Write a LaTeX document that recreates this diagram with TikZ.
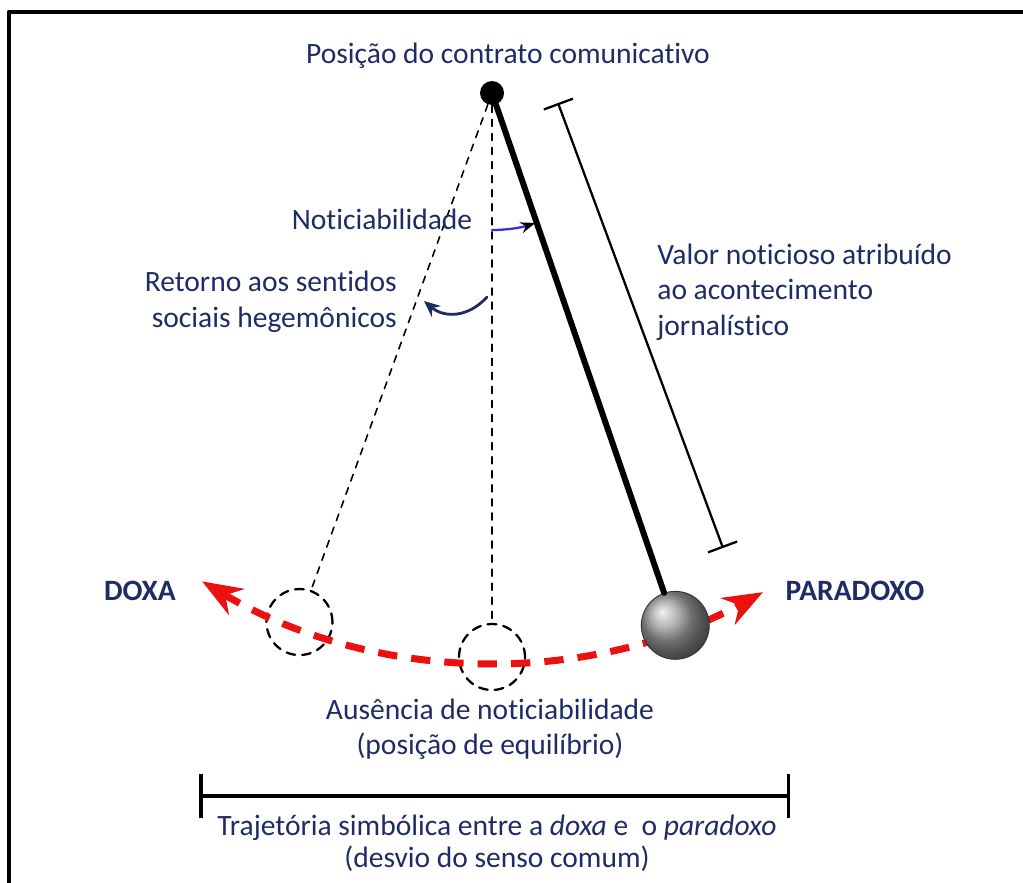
\documentclass[tikz,border=0pt]{standalone}
\usepackage{fontspec}
\setmainfont{Carlito}[Ligatures=NoCommon]
\usetikzlibrary{arrows.meta}
\usetikzlibrary{calc}
\usetikzlibrary{positioning}
\definecolor{navytext}{RGB}{30,44,102}
\definecolor{swingred}{RGB}{236,16,16}
\definecolor{notblue}{RGB}{50,50,215}

\begin{document}
\begin{tikzpicture}[x=0.02cm, y=0.02cm, line cap=round, line join=round, >=Stealth,
    lbl/.style={text=navytext, font=\fontsize{16.8}{20.2}\selectfont, inner sep=0pt},
    ghost/.style={circle, draw, line width=1.3pt, dash pattern=on 5pt off 4pt, minimum size=1.32cm, inner sep=0pt},
    guide/.style={line width=0.9pt, dash pattern=on 4pt off 4pt}]
  \useasboundingbox (0,0) rectangle (1023,-882);
  %--- frame
  \draw[line width=2.4pt, line cap=butt] (9,-900) -- (9,-12) -- (1040,-12);
  %--- pivot and resting positions
  \node[circle, fill, minimum size=0.48cm, inner sep=0pt] (pivot) at (492,-93) {};
  \node[ghost] (doxapos) at ($(pivot)+(250:563)$) {};
  \node[ghost] (restpos) at ($(pivot)+(270:564)$) {};
  %--- swing
  \draw[swingred, line width=4pt, line cap=butt, dash pattern=on 11pt off 8pt,
        {Stealth[length=0.8cm,width=0.6cm]}-{Stealth[length=0.8cm,width=0.6cm]}]
        ($(pivot)+(239.3:568)$) arc[start angle=239.3, end angle=298.5, radius=568];
  \draw[guide] (pivot) -- (doxapos);
  \draw[guide] (pivot) -- (restpos);
  %--- pendulum
  \node[circle, shading=ball, ball color=gray!75, draw=gray!40!black, line width=0.5pt,
        minimum size=1.36cm, inner sep=0pt] (bob) at ($(pivot)+(289:563)$) {};
  \draw[line width=3.4pt] (pivot) -- (bob);
  %--- value bar
  \coordinate (dimtop) at (558,-103);
  \coordinate (dimbot) at (723,-548);
  \draw[{Bar[width=0.62cm]}-{Bar[width=0.62cm]}, line width=1.3pt, line cap=butt] (dimtop) -- (dimbot);
  %--- angle arrows
  \coordinate (noticA) at ($(pivot)+(270:137)$);
  \draw[notblue, line width=1.3pt, -{Stealth[black, length=0.3cm, width=0.22cm]}]
        (noticA) arc[start angle=270, end angle=288.5, radius=137];
  \coordinate (retA) at (487,-297);
  \coordinate (retB) at (424,-301);
  \draw[navytext, line width=1.6pt, -{Stealth[length=0.32cm, width=0.28cm]}]
        (retA) .. controls (468,-318) and (444,-318) .. (retB);
  %--- trajectory bracket
  \coordinate (trajL) at (199,-796);
  \coordinate (trajR) at (790,-796);
  \draw[{Bar[width=0.88cm]}-{Bar[width=0.88cm]}, line width=2pt, line cap=butt] (trajL) -- (trajR);
  %--- labels
  \node[lbl] (contrato) at (508,-56) {Posição do contrato comunicativo};
  \node[lbl] (notic) at (382,-219) {Noticiabilidade};
  \node[lbl, align=right, anchor=east] (retorno) at (397,-302) {Retorno aos sentidos\\sociais hegemônicos};
  \node[lbl, align=left, anchor=west] (valor) at (657,-292) {Valor noticioso atribuído\\ao acontecimento\\jornalístico};
  \node[lbl, font=\fontsize{16.8}{20.2}\selectfont\bfseries] (doxa) at (140,-591) {DOXA};
  \node[lbl, font=\fontsize{16.8}{20.2}\selectfont\bfseries] (paradoxo) at (855,-591) {PARADOXO};
  \node[lbl, align=center] (ausencia) at (490,-729) {Ausência de noticiabilidade\\(posição de equilíbrio)};
  \node[lbl, align=center, font=\fontsize{16.8}{18.2}\selectfont] (trajtext) at (497,-843)
        {Trajetória simbólica entre a \emph{doxa} e\ \ o \emph{paradoxo}\\(desvio do senso comum)};
\end{tikzpicture}
\end{document}
